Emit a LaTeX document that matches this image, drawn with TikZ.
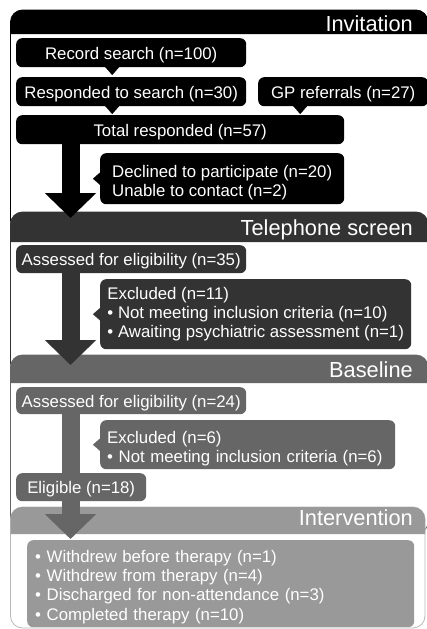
\documentclass[tikz,border=0pt]{standalone}
\usepackage{fontspec}
\setmainfont{Liberation Sans}
\usetikzlibrary{arrows.meta, calc}

\definecolor{invcol}{gray}{0}
\definecolor{telcol}{gray}{0.2}
\definecolor{bascol}{gray}{0.4}
\definecolor{intcol}{gray}{0.6}
\definecolor{intline}{gray}{0.72}

\begin{document}
\begin{tikzpicture}[
    x=1pt, y=-1pt,
    panel/.style={
        fill=white,
        rounded corners=12pt,
        line width=0.8pt
    },
    headtext/.style={
        anchor=base east,
        text=white,
        inner sep=0pt,
        font=\fontsize{21.8}{24}\selectfont
    },
    onebox/.style={
        anchor=north west,
        rounded corners=6pt,
        inner sep=0pt,
        text=white,
        text height=13.5pt,
        text depth=0.5pt,
        font=\fontsize{16.8}{20}\selectfont
    },
    listbox/.style={
        anchor=north west,
        rounded corners=6pt,
        inner sep=0pt,
        align=left,
        text=white,
        font=\fontsize{16.8}{19.3}\selectfont
    },
    bigarrow/.style={
        line width=18pt,
        -{Triangle[width=50pt,length=25pt]}
    },
    tab/.style={
        line width=0.1pt,
        -{Triangle[width=14pt,length=8pt]}
    }
]
\useasboundingbox (0,0) rectangle (426,629);

% ------------------------------------------------------------
% Stage panels
% ------------------------------------------------------------
\draw[panel, draw=invcol] (10.5,10) rectangle (428,232);
\fill[invcol] (10.5,34) [rounded corners=12pt] -- (10.5,10) -- (428,10) [sharp corners] -- (428,34) -- cycle;
\node[headtext] (invhead) at (413,31) {Invitation};

\draw[panel, draw=telcol] (10.5,212) rectangle (428,375);
\fill[telcol] (10.5,242) [rounded corners=12pt] -- (10.5,212) -- (428,212) [sharp corners] -- (428,242) -- cycle;
\node[headtext] (telhead) at (413,235) {Telephone screen};

\draw[panel, draw=bascol] (10.5,355) rectangle (428,534);
\fill[bascol] (10.5,383) [rounded corners=12pt] -- (10.5,355) -- (428,355) [sharp corners] -- (428,383) -- cycle;
\node[headtext] (bashead) at (413,377) {Baseline};

\draw[panel, draw=intline] (10.5,507) rectangle (425,628);
\fill[intcol] (10.5,534) [rounded corners=12pt] -- (10.5,507) -- (425,507) [sharp corners] -- (425,534) -- cycle;
\node[headtext] (inthead) at (413,525) {Intervention};

% shaft axis and arrow tips
\coordinate (axis) at (70.5,0);
\coordinate (tip1) at (70.5,218);
\coordinate (tip2) at (70.5,365);
\coordinate (tip3) at (70.5,539);

% ------------------------------------------------------------
% Invitation
% ------------------------------------------------------------
\node[onebox, fill=invcol, minimum width=230pt, minimum height=29pt] (rec) at (16,38) {Record search (n=100)};
\node[onebox, fill=invcol, minimum width=230pt, minimum height=29pt] (resp) at (16,77) {Responded to search (n=30)};
\node[onebox, fill=invcol, minimum width=170pt, minimum height=29pt] (gp) at (258,77) {GP referrals (n=27)};
\node[onebox, fill=invcol, minimum width=328pt, minimum height=29pt] (tot) at (16,115) {Total responded (n=57)};

\draw[tab, invcol, shorten >=2pt] ([xshift=-19pt]rec.south) -- ([xshift=-19pt]rec.south |- resp.north);
\draw[tab, invcol, shorten >=1pt] ([xshift=-19pt]resp.south) -- ([xshift=-19pt]resp.south |- tot.north);
\draw[tab, invcol, shorten >=1pt] ([xshift=-43pt]gp.south) -- ([xshift=-43pt]gp.south |- tot.north);

\draw[bigarrow, invcol] (tot.south -| axis) -- (tip1);

% text block centred in the box
\node[listbox, fill=invcol, minimum width=244pt, minimum height=51pt] (decl) at (100,153)
    {\rule{0pt}{20.4pt}Declined to participate (n=20)\\Unable to contact (n=2)};
\draw[tab, invcol, shorten >=22.5pt] (decl.west) -- (decl.west -| axis);

% ------------------------------------------------------------
% Telephone screen
% ------------------------------------------------------------
\node[onebox, fill=telcol, minimum width=230pt, minimum height=28pt] (tass) at (16,245) {Assessed for eligibility (n=35)};
\draw[bigarrow, telcol] (tass.south -| axis) -- (tip2);

\node[listbox, fill=telcol, minimum width=311pt, minimum height=70pt] (texc) at (100,279)
    {Excluded (n=11)\\• Not meeting inclusion criteria (n=10)\\• Awaiting psychiatric assessment (n=1)};
\draw[tab, telcol, shorten >=22.5pt] (texc.west) -- (texc.west -| axis);

% ------------------------------------------------------------
% Baseline
% ------------------------------------------------------------
\node[onebox, fill=bascol, minimum width=230pt, minimum height=27pt] (bass) at (16,387) {Assessed for eligibility (n=24)};
\draw[bigarrow, bascol] (bass.south -| axis) -- (tip3);

\node[listbox, fill=bascol, inner xsep=7pt, text width=281pt, minimum height=49pt] (bexc) at (100,420)
    {\rule{0pt}{19.4pt}Excluded (n=6)\\• Not meeting inclusion criteria (n=6)};
\draw[tab, bascol, shorten >=22.5pt] (bexc.west) -- (bexc.west -| axis);

\node[onebox, fill=bascol, minimum width=130pt, minimum height=28pt] (elig) at (16,473) {Eligible (n=18)};

% ------------------------------------------------------------
% Intervention
% ------------------------------------------------------------
\node[listbox, fill=intcol, inner xsep=8pt, text width=371pt, minimum height=87pt] (iout) at (27,540)
    {\rule{0pt}{18.6pt}• Withdrew before therapy (n=1)\\• Withdrew from therapy (n=4)\\• Discharged for non-attendance (n=3)\\• Completed therapy (n=10)};

\end{tikzpicture}
\end{document}
